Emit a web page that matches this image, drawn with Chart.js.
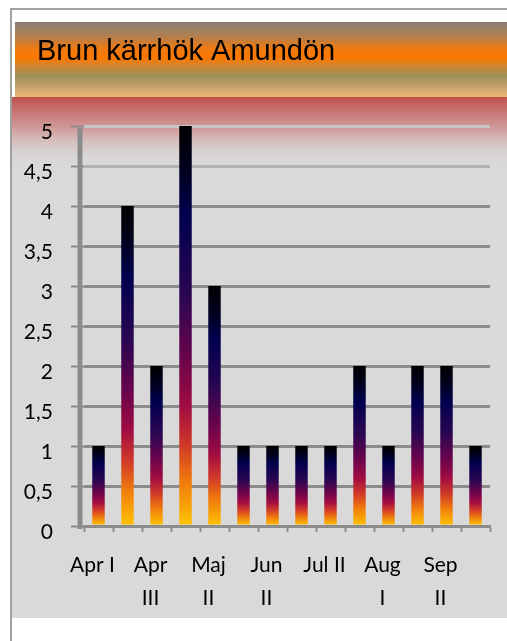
<!DOCTYPE html>
<html>
<head>
<meta charset="utf-8">
<script src="https://cdn.jsdelivr.net/npm/chart.js@4.4.0/dist/chart.umd.min.js"></script>
<style>
  html, body { margin: 0; padding: 0; background: #ffffff; }
  #wrap { position: relative; width: 507px; height: 641px; }
</style>
</head>
<body>
<div id="wrap"><canvas id="c"></canvas></div>
<script>
const chartTitle = "Brun kärrhök Amundön";
const categories = ["Apr I", "Apr II", "Apr III", "Maj I", "Maj II", "Jun I", "Jun II",
                    "Jul I", "Jul II", "Jul III", "Aug I", "Sep I", "Sep II", "Sep III"];
const counts = [1, 4, 2, 5, 3, 1, 1, 1, 1, 2, 1, 2, 2, 1];
const xTickLabels = [["Apr I"], "", ["Apr", "III"], "", ["Maj", "II"], "", ["Jun", "II"], "",
                     ["Jul II"], "", ["Aug", "I"], "", ["Sep", "II"], ""];
const yMin = 0, yMax = 5, yStep = 0.5;

const backdrop = {
  id: 'backdrop',
  beforeDraw(chart) {
    const ctx = chart.ctx;
    const W = chart.width, H = chart.height;
    ctx.save();
    ctx.fillStyle = '#ffffff';
    ctx.fillRect(0, 0, W, H);
    // plot background
    ctx.fillStyle = '#d9d9d9';
    ctx.fillRect(12, 97, W - 12, 521);
    const rg = ctx.createLinearGradient(0, 97, 0, 165);
    rg.addColorStop(0, 'rgba(192,80,77,1)');
    rg.addColorStop(0.45, 'rgba(205,130,128,0.75)');
    rg.addColorStop(1, 'rgba(217,217,217,0)');
    ctx.fillStyle = rg;
    ctx.fillRect(12, 97, W - 12, 68);
    // header band
    const hg = ctx.createLinearGradient(0, 22, 0, 97);
    hg.addColorStop(0, '#8a7e78');
    hg.addColorStop(0.18, '#b08052');
    hg.addColorStop(0.36, '#f07a10');
    hg.addColorStop(0.48, '#fa7800');
    hg.addColorStop(0.58, '#d48430');
    hg.addColorStop(0.72, '#9a9058');
    hg.addColorStop(0.86, '#c4a26a');
    hg.addColorStop(1, '#ecb878');
    ctx.fillStyle = hg;
    ctx.fillRect(15, 22, W - 15, 75);
    // outer border
    ctx.strokeStyle = '#a0a0a0';
    ctx.lineWidth = 2;
    ctx.beginPath();
    ctx.moveTo(11, H);
    ctx.lineTo(11, 9);
    ctx.lineTo(W, 9);
    ctx.stroke();
    ctx.restore();
  },
  beforeDatasetsDraw(chart) {
    // 3D-style side wall line of the value axis
    const ctx = chart.ctx;
    const a = chart.chartArea;
    ctx.save();
    ctx.strokeStyle = '#8c8c8c';
    ctx.lineWidth = 5;
    ctx.beginPath();
    ctx.moveTo(a.left - 4, a.top + 2);
    ctx.lineTo(a.left - 4, a.bottom + 3);
    ctx.stroke();
    ctx.restore();
  },
  afterDraw(chart) {
    const ctx = chart.ctx;
    ctx.save();
    ctx.fillStyle = '#000000';
    ctx.font = 'normal 29px "Liberation Sans", Arial, sans-serif';
    ctx.textAlign = 'left';
    ctx.textBaseline = 'alphabetic';
    ctx.fillText(chartTitle, 37, 60);
    ctx.restore();
  }
};

function barGradient(context) {
  const chart = context.chart;
  const ys = chart.scales && chart.scales.y;
  if (!chart.chartArea || !ys) return '#400050';
  const v = context.raw;
  const top = ys.getPixelForValue(v);
  const base = ys.getPixelForValue(0);
  const g = chart.ctx.createLinearGradient(0, top, 0, base);
  g.addColorStop(0, '#000000');
  g.addColorStop(0.1, '#00001a');
  g.addColorStop(0.22, '#00004e');
  g.addColorStop(0.42, '#2a0652');
  g.addColorStop(0.58, '#6a044c');
  g.addColorStop(0.7, '#a00c42');
  g.addColorStop(0.8, '#d23a28');
  g.addColorStop(0.89, '#f07c0c');
  g.addColorStop(1, '#ffc400');
  return g;
}

new Chart(document.getElementById('c'), {
  type: 'bar',
  data: {
    labels: categories,
    datasets: [{
      data: counts,
      backgroundColor: barGradient,
      borderWidth: 0,
      barPercentage: 0.43,
      categoryPercentage: 1.0
    }]
  },
  plugins: [backdrop],
  options: {
    responsive: true,
    maintainAspectRatio: false,
    animation: false,
    devicePixelRatio: 1,
    layout: { padding: { left: 0, right: 17, top: 126, bottom: 0 } },
    plugins: {
      legend: { display: false },
      tooltip: { enabled: false },
      title: { display: false }
    },
    scales: {
      x: {
        offset: true,
        grid: {
          display: true,
          drawOnChartArea: false,
          drawTicks: true,
          tickLength: 6,
          tickWidth: 2,
          tickColor: '#8c8c8c',
          offset: true
        },
        border: { display: true, color: '#8c8c8c', width: 3 },
        ticks: {
          autoSkip: false,
          maxRotation: 0,
          minRotation: 0,
          padding: 17,
          labelOffset: -6,
          color: '#000000',
          font: { family: 'Lato, "Open Sans", sans-serif', size: 21, lineHeight: 1.55 },
          callback: (v, i) => xTickLabels[i]
        },
        afterFit(scale) { scale.height = 115; }
      },
      y: {
        min: yMin,
        max: yMax,
        grid: {
          color: (c) => c.tick && c.tick.value >= 5 ? '#c6c6c6' : (c.tick && c.tick.value >= 4.5 ? '#b2b2b2' : '#8c8c8c'),
          lineWidth: 3,
          drawTicks: true,
          tickLength: 13,
          tickColor: '#8c8c8c',
          tickWidth: 2
        },
        border: { display: false },
        ticks: {
          stepSize: yStep,
          padding: 18,
          labelOffset: 6,
          color: '#000000',
          font: { family: 'Lato, "Open Sans", sans-serif', size: 21 },
          callback: (v) => String(v).replace('.', ',')
        },
        afterFit(scale) { scale.width = 84; }
      }
    }
  }
});
</script>
</body>
</html>
